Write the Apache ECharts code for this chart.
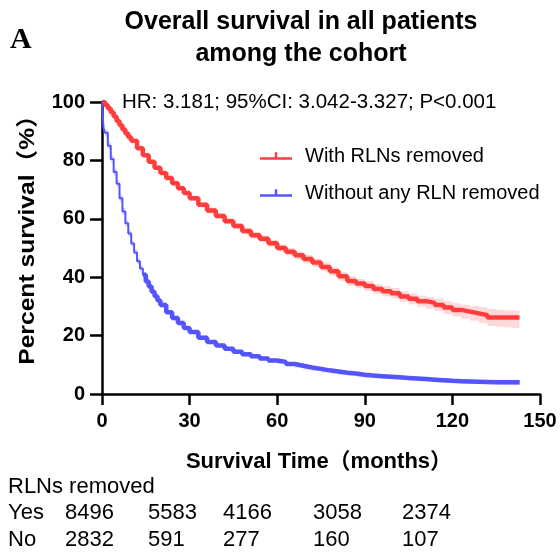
<!DOCTYPE html>
<html>
<head>
<meta charset="utf-8">
<script src="https://cdn.jsdelivr.net/npm/echarts@6/dist/echarts.min.js"></script>
<style>
  html, body { margin: 0; padding: 0; background: #fff; }
  #chart { width: 560px; height: 555px; }
</style>
</head>
<body>
<div id="chart"></div>
<script>
// Kaplan-Meier estimates (months, percent survival) with 95% confidence bands
const redTime = [0,1,2,3,4,5,6,7,8,9,10,12,14,16,18,20,22,24,26,28,30,33,36,39,42,45,48,51,54,57,60,63,66,69,72,75,78,81,84,87,90,93,96,99,102,105,108,111,114,117,120,123,126,129,132,135,138,141,143];
const redSurv = [100,99,97.8,96.5,95,93.5,92,90.6,89.2,87.9,86.7,84.2,81.8,79.5,77.5,75.7,74,72.2,70.5,68.8,67,64.8,62.8,61,59.2,57.5,55.8,54.4,53.2,51.6,50,48.7,47.5,46.2,45,43.5,42,40.3,38.7,37.8,37,36,35.2,34.5,33.4,32.6,31.8,31.2,30.5,29.6,28.8,28.2,27.6,27,26.2,26.2,26.2,26.2,26.2];
const redLow = [100,98.6,97.3,96.0,94.5,93.0,91.4,90.0,88.6,87.3,86.1,83.6,81.1,78.8,76.8,75.0,73.2,71.4,69.7,68.0,66.1,63.9,61.8,60.0,58.1,56.4,54.7,53.2,52.0,50.4,48.7,47.4,46.1,44.8,43.5,42.0,40.5,38.8,37.1,36.2,35.3,34.3,33.4,32.7,31.6,30.7,29.9,29.2,28.4,27.4,26.5,25.8,25.1,24.3,23.3,23.0,22.8,22.6,22.6];
const redHigh = [100,99.4,98.3,97.0,95.5,94.0,92.6,91.2,89.8,88.5,87.3,84.8,82.5,80.2,78.2,76.4,74.8,73.0,71.3,69.6,67.9,65.7,63.8,62.0,60.3,58.6,56.9,55.6,54.4,52.8,51.3,50.0,48.9,47.6,46.5,45.0,43.5,41.8,40.3,39.4,38.7,37.7,37.0,36.3,35.2,34.5,33.7,33.2,32.6,31.8,31.1,30.6,30.1,29.7,29.1,28.8,28.7,28.6,28.6];

const blueTime = [0,0.5,1,2,3,4,5,6,7,8,9,10,11,12,13,14,15,16,17,18,19,20,22,24,26,28,30,33,36,39,42,45,48,51,54,57,60,63,66,69,72,75,78,81,84,87,90,93,96,99,102,105,108,111,114,117,120,123,126,129,132,135,138,141,143];
const blueSurv = [100,91,89.5,85,80.5,76,72,67,62.5,58.5,55,51.5,48.5,45.5,43,40.8,38.5,36.8,35,33.5,32,30.5,28,26,24.3,22.6,21.2,19.3,17.8,16.6,15.5,14.5,13.6,12.9,12.2,11.5,11,10.3,9.7,9.1,8.6,8.1,7.7,7.3,7,6.6,6.3,6.1,5.9,5.7,5.5,5.3,5.1,4.9,4.7,4.5,4.4,4.3,4.2,4.1,4.0,4.0,4.0,4.0,4.0];
const blueLow = [100,89.8,88.3,83.8,79.3,74.8,70.8,65.8,61.3,57.4,53.9,50.5,47.5,44.5,42.0,39.8,37.6,35.9,34.1,32.6,31.1,29.7,27.2,25.2,23.5,21.9,20.5,18.6,17.1,15.9,14.8,13.8,12.9,12.2,11.5,10.8,10.3,9.6,9.0,8.4,7.9,7.4,7.0,6.6,6.3,5.9,5.6,5.4,5.2,5.0,4.8,4.6,4.4,4.2,4.0,3.8,3.7,3.6,3.5,3.4,3.3,3.2,3.1,3.0,3.0];
const blueHigh = [100,92.2,90.7,86.2,81.7,77.2,73.2,68.2,63.7,59.6,56.1,52.5,49.5,46.5,44.0,41.8,39.4,37.7,35.9,34.4,32.9,31.3,28.8,26.8,25.1,23.3,21.9,20.0,18.5,17.3,16.2,15.2,14.3,13.6,12.9,12.2,11.7,11.0,10.4,9.8,9.3,8.8,8.4,8.0,7.7,7.3,7.0,6.8,6.6,6.4,6.2,6.0,5.8,5.6,5.4,5.2,5.1,5.0,4.9,4.8,4.7,4.7,4.7,4.7,4.7];

// Numbers at risk at 0, 30, 60, 90, 120 months
const riskGroups = ['Yes', 'No'];
const riskYes = [8496, 5583, 4166, 3058, 2374];
const riskNo = [2832, 591, 277, 160, 107];

const seriesNames = ['With RLNs removed', 'Without any RLN removed'];
const titleText = 'Overall survival in all patients\namong the cohort';
const statText = 'HR: 3.181; 95%CI: 3.042-3.327; P<0.001';

const RED = '#FF3D3D';
const BLUE = '#5555FF';
const FONT = '"Liberation Sans", Arial, "Noto Sans CJK SC", sans-serif';

function pairs(t, v) { return t.map((x, i) => [x, v[i]]); }

// Step-shaped outline so the band follows the staircase of the estimate
function stepPoints(t, v) {
  const out = [];
  for (let i = 0; i < t.length; i++) {
    out.push([t[i], v[i]]);
    if (i < t.length - 1) out.push([t[i + 1], v[i]]);
  }
  return out;
}

function bandSeries(t, lo, hi, fill) {
  return {
    type: 'custom',
    silent: true,
    z: 1,
    data: [[0, 0]],
    renderItem: function (params, api) {
      const up = stepPoints(t, hi).map(p => api.coord(p));
      const dn = stepPoints(t, lo).reverse().map(p => api.coord(p));
      return {
        type: 'polygon',
        shape: { points: up.concat(dn) },
        style: { fill: fill, stroke: null }
      };
    }
  };
}

const chart = echarts.init(document.getElementById('chart'), null, { renderer: 'canvas' });

const riskTextX = [65, 148, 223, 313, 402];
const graphics = [
  { type: 'text', left: 10, top: 25, style: { text: 'A', font: 'bold 30px "Liberation Serif", "Times New Roman", serif', fill: '#000' } },
  { type: 'text', x: 301, y: 6, style: { text: titleText, font: 'bold 25px ' + FONT, fill: '#000', textAlign: 'center', lineHeight: 32 } },
  { type: 'text', x: 122, y: 92, style: { text: statText, font: '20.5px ' + FONT, fill: '#000' } },
  { type: 'text', x: 28, y: 234, rotation: Math.PI / 2, scaleX: 1.12, style: { text: 'Percent survival（%）', font: 'bold 22px ' + FONT, fill: '#000', textAlign: 'center', textVerticalAlign: 'middle' } },
  { type: 'text', x: 319, y: 462, style: { text: 'Survival Time（months）', font: 'bold 22px ' + FONT, fill: '#000', textAlign: 'center', textVerticalAlign: 'middle' } },
  { type: 'text', x: 8, y: 487, style: { text: 'RLNs removed', font: '22px ' + FONT, fill: '#000', textVerticalAlign: 'middle' } }
];
[riskYes, riskNo].forEach((row, r) => {
  const y = 513 + r * 27;
  graphics.push({ type: 'text', x: 8, y: y, style: { text: riskGroups[r], font: '22px ' + FONT, fill: '#000', textVerticalAlign: 'middle' } });
  row.forEach((n, k) => {
    graphics.push({ type: 'text', x: riskTextX[k], y: y, style: { text: String(n), font: '22px ' + FONT, fill: '#000', textVerticalAlign: 'middle' } });
  });
});

const legendIcon = 'path://M0,10 L32,10 L32,12.5 L0,12.5 Z M14.8,5 L17.2,5 L17.2,10 L14.8,10 Z';

chart.setOption({
  animation: false,
  backgroundColor: '#fff',
  grid: { left: 102, right: 20, top: 102, bottom: 161, containLabel: false },
  xAxis: {
    type: 'value', min: 0, max: 150, interval: 30,
    axisLine: { lineStyle: { color: '#000', width: 2.5 } },
    axisTick: { length: 11, lineStyle: { color: '#000', width: 2.5 } },
    axisLabel: { color: '#000', fontFamily: FONT, fontWeight: 'bold', fontSize: 20, margin: 17 },
    splitLine: { show: false }
  },
  yAxis: {
    type: 'value', min: 0, max: 100, interval: 20,
    axisLine: { show: true, lineStyle: { color: '#000', width: 2.5 } },
    axisTick: { show: true, length: 12, lineStyle: { color: '#000', width: 2.5 } },
    axisLabel: { color: '#000', fontFamily: FONT, fontWeight: 'bold', fontSize: 20, margin: 17 },
    splitLine: { show: false }
  },
  legend: {
    left: 255, top: 141, orient: 'vertical', itemGap: 17,
    itemWidth: 32, itemHeight: 9,
    icon: legendIcon,
    textStyle: { fontFamily: FONT, fontSize: 20, color: '#000', padding: [0, 0, 0, 8] },
    data: seriesNames
  },
  graphic: graphics,
  series: [
    bandSeries(redTime, redLow, redHigh, 'rgba(255,170,170,0.45)'),
    bandSeries(blueTime, blueLow, blueHigh, 'rgba(170,170,255,0.45)'),
    {
      name: seriesNames[0], type: 'line', step: 'end', showSymbol: false, z: 3,
      data: pairs(redTime, redSurv), color: RED,
      lineStyle: { color: RED, width: 4.5 }
    },
    {
      name: seriesNames[1], type: 'line', step: 'end', showSymbol: false, z: 3,
      data: pairs(blueTime, blueSurv), color: BLUE,
      lineStyle: { color: BLUE, width: 2 }
    },
    {
      // denser censoring later in follow-up makes the curve look heavier
      name: 'censored', type: 'line', step: 'end', showSymbol: false, z: 3, silent: true,
      data: pairs(blueTime, blueSurv).filter(p => p[0] >= 14), color: BLUE,
      lineStyle: { color: BLUE, width: 4.5 }
    }
  ]
});
</script>
</body>
</html>
